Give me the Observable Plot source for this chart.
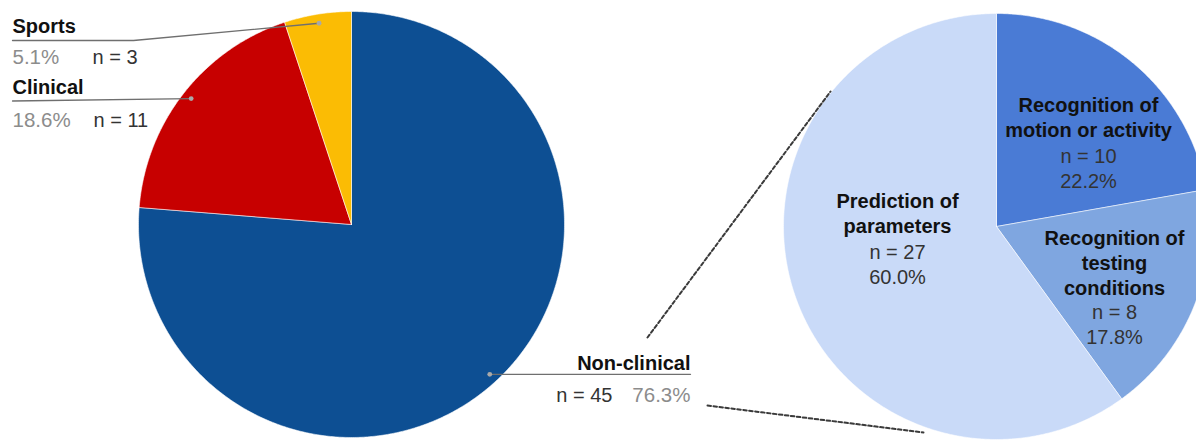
<!DOCTYPE html>
<html>
<head>
<meta charset="utf-8">
<script src="https://cdn.jsdelivr.net/npm/d3@7"></script>
<script src="https://cdn.jsdelivr.net/npm/@observablehq/plot@0.6"></script>
<style>
  html, body { margin: 0; padding: 0; background: #fff; }
  #chart svg { display: block; }
</style>
</head>
<body>
<div id="chart"></div>
<script>
// Application domains of the reviewed studies
const domainNames  = ["Non-clinical", "Clinical", "Sports"];
const domainCounts = [45, 11, 3];
const domainShares = ["76.3%", "18.6%", "5.1%"];
const domainColors = ["#0d4f93", "#c70000", "#fbbc04"];

// Purposes within the non-clinical studies
const purposeNames  = ["Recognition of motion or activity", "Recognition of testing conditions", "Prediction of parameters"];
const purposeTitles = ["Recognition of\nmotion or activity", "Recognition of\ntesting\nconditions", "Prediction of\nparameters"];
const purposeCounts = [10, 8, 27];
const purposeShares = ["22.2%", "17.8%", "60.0%"];
const purposeColors = ["#4a7bd5", "#7fa6e0", "#c9daf8"];

// ---- layout (pixels) ----
const W = 1196, H = 441;
const R = 213;
const leftC = [351, 224];
const rightC = [996, 226];
const font = "'Liberation Sans', Arial, Helvetica, sans-serif";

// Wedge outlines, angles measured clockwise from 12 o'clock
function wedges(names, counts, c) {
  const total = d3.sum(counts);
  const rows = [];
  let acc = 0;
  names.forEach((name, i) => {
    const a0 = acc / total * 2 * Math.PI;
    acc += counts[i];
    const a1 = acc / total * 2 * Math.PI;
    rows.push({name, x: c[0], y: c[1]});
    const n = Math.max(2, Math.ceil((a1 - a0) / (Math.PI / 360)));
    for (let k = 0; k <= n; k++) {
      const a = a0 + (a1 - a0) * k / n;
      rows.push({name, x: c[0] + R * Math.sin(a), y: c[1] - R * Math.cos(a)});
    }
    rows.push({name, x: c[0], y: c[1]});
  });
  return rows;
}

// Point on the mid-angle of each wedge, at a fraction of the radius
function midPoints(names, counts, c, frac) {
  const total = d3.sum(counts);
  let acc = 0;
  return names.map((name, i) => {
    const a = (acc + counts[i] / 2) / total * 2 * Math.PI;
    acc += counts[i];
    return {name, x: c[0] + frac * R * Math.sin(a), y: c[1] - frac * R * Math.cos(a)};
  });
}

const pieRows = [...wedges(domainNames, domainCounts, leftC), ...wedges(purposeNames, purposeCounts, rightC)];
const anchors = midPoints(domainNames, domainCounts, leftC, 0.957);
const [aNon, aCli, aSpo] = anchors;

// Leader lines from the wedge anchors to the outside labels
const leaders = [
  {k: "Sports", x: aSpo.x, y: aSpo.y}, {k: "Sports", x: 133, y: 40}, {k: "Sports", x: 12, y: 40},
  {k: "Clinical", x: aCli.x, y: aCli.y}, {k: "Clinical", x: 12, y: 100.5},
  {k: "Non-clinical", x: aNon.x, y: aNon.y}, {k: "Non-clinical", x: 690, y: aNon.y}
];

// Dashed connectors between the non-clinical wedge and its breakdown
const connectors = [
  {k: "top", x: 647, y: 337}, {k: "top", x: 830, y: 91},
  {k: "bottom", x: 707, y: 405}, {k: "bottom", x: 923, y: 432}
];

// Outside labels of the left pie: left-aligned ones for the small wedges
const leftStart = [
  {t: domainNames[2], x: 12, y: 32, kind: "title"},
  {t: domainNames[1], x: 12, y: 93, kind: "title"},
  {t: domainShares[2], x: 12, y: 63, kind: "share"},
  {t: domainShares[1], x: 12, y: 126, kind: "share"},
  {t: `n = ${domainCounts[2]}`, x: 92, y: 63, kind: "count"},
  {t: `n = ${domainCounts[1]}`, x: 93, y: 126, kind: "count"}
];
// ...and right-aligned ones for the large wedge
const leftEnd = [
  {t: domainNames[0], x: 690, y: 369, kind: "title"},
  {t: domainShares[0], x: 690, y: 401, kind: "share"},
  {t: `n = ${domainCounts[0]}`, x: 612, y: 401, kind: "count"}
];

// Inside labels of the right pie (x centre, baseline of last bold line, baseline of last value line)
const rightPos = [
  {x: 1088, yb: 136.5, yv: 187},
  {x: 1114, yb: 294, yv: 343},
  {x: 897, yb: 232.5, yv: 283}
];
const rightBold = purposeTitles.map((t, i) => ({t, x: rightPos[i].x, y: rightPos[i].yb}));
const rightVals = purposeCounts.map((n, i) => ({t: `n = ${n}\n${purposeShares[i]}`, x: rightPos[i].x, y: rightPos[i].yv}));

const labelStyle = {
  title: {fontSize: 20, fontWeight: "bold", fill: "#111"},
  share: {fontSize: 20.5, fill: "#8c8c8c"},
  count: {fontSize: 20, fill: "#333"}
};
const outsideLabels = (rows, anchor) => ["title", "share", "count"].map(kind =>
  Plot.text(rows.filter(d => d.kind === kind), {
    x: "x", y: "y", text: "t", textAnchor: anchor, lineAnchor: "bottom", ...labelStyle[kind]
  })
);

const chart = Plot.plot({
  width: W,
  height: H,
  margin: 0,
  x: {domain: [0, W], range: [0, W], axis: null},
  y: {domain: [0, H], range: [0, H], axis: null},
  color: {domain: [...domainNames, ...purposeNames], range: [...domainColors, ...purposeColors]},
  style: {fontFamily: font, background: "#fff"},
  marks: [
    Plot.line(pieRows, {x: "x", y: "y", z: "name", fill: "name", stroke: "#ffffff", strokeWidth: 0.8, strokeOpacity: 0.7, strokeLinejoin: "round"}),
    Plot.line(connectors, {x: "x", y: "y", z: "k", stroke: "#3a3a3a", strokeWidth: 2, strokeDasharray: "3.5,2.5"}),
    Plot.line(leaders, {x: "x", y: "y", z: "k", stroke: "#6f6f6f", strokeWidth: 1.3}),
    Plot.dot(anchors, {x: "x", y: "y", r: 2.4, fill: "#a9a9a9", stroke: "none"}),
    ...outsideLabels(leftStart, "start"),
    ...outsideLabels(leftEnd, "end"),
    Plot.text(rightBold, {x: "x", y: "y", text: "t", textAnchor: "middle", lineAnchor: "bottom", lineHeight: 1.24, fontSize: 20, fontWeight: "bold", fill: "#111"}),
    Plot.text(rightVals, {x: "x", y: "y", text: "t", textAnchor: "middle", lineAnchor: "bottom", lineHeight: 1.23, fontSize: 20, fill: "#333"})
  ]
});

document.getElementById("chart").appendChild(chart);
</script>
</body>
</html>
